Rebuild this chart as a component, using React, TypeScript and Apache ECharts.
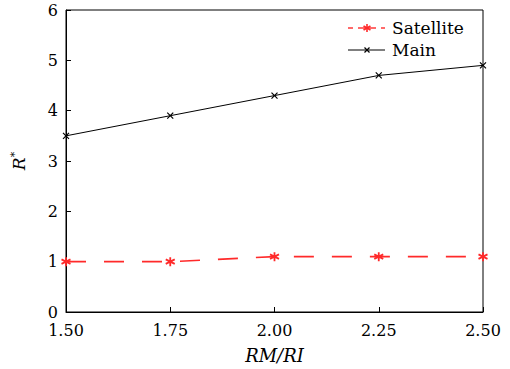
import React, { useEffect, useRef } from "react";
import * as echarts from "echarts";

const ratios = [1.5, 1.75, 2.0, 2.25, 2.5];
const satellite = [1.0, 1.0, 1.1, 1.1, 1.1];
const mainSeries = [3.5, 3.9, 4.3, 4.7, 4.9];
const seriesNames = ["Satellite", "Main"];

const FONT = "'DejaVu Serif', 'Liberation Serif', serif";
const RED = "#ff2a2a";
const crossPath = "path://M0,0L10,10M10,0L0,10";
const starPath = "path://M5,0L5,10M0.67,2.5L9.33,7.5M0.67,7.5L9.33,2.5";

function starLines(cx: number, cy: number, r: number, color: string, w: number) {
  const out: any[] = [];
  for (let k = 0; k < 3; k++) {
    const a = (Math.PI / 3) * k + Math.PI / 2;
    out.push({
      type: "line",
      shape: { x1: cx - r * Math.cos(a), y1: cy - r * Math.sin(a), x2: cx + r * Math.cos(a), y2: cy + r * Math.sin(a) },
      style: { stroke: color, lineWidth: w },
      z: 10,
    });
  }
  return out;
}

function crossLines(cx: number, cy: number, r: number, color: string, w: number) {
  return [
    { type: "line", shape: { x1: cx - r, y1: cy - r, x2: cx + r, y2: cy + r }, style: { stroke: color, lineWidth: w }, z: 10 },
    { type: "line", shape: { x1: cx - r, y1: cy + r, x2: cx + r, y2: cy - r }, style: { stroke: color, lineWidth: w }, z: 10 },
  ];
}

export default function App() {
  const ref = useRef<HTMLDivElement>(null);
  useEffect(() => {
    if (!ref.current) return;
    const chart = echarts.init(ref.current, undefined, { renderer: "svg" });
    const yS = 28;
    const yM = 50;
    const legendGraphics: any[] = [
      { type: "line", shape: { x1: 348, y1: yS, x2: 353, y2: yS }, style: { stroke: RED, lineWidth: 1.4 }, z: 10 },
      { type: "line", shape: { x1: 358, y1: yS, x2: 376, y2: yS }, style: { stroke: RED, lineWidth: 1.4 }, z: 10 },
      { type: "line", shape: { x1: 381, y1: yS, x2: 385, y2: yS }, style: { stroke: RED, lineWidth: 1.4 }, z: 10 },
      ...starLines(367, yS, 4, RED, 1.6),
      {
        type: "text",
        x: 392,
        y: yS,
        style: { text: seriesNames[0], font: "17px " + FONT, fontFamily: FONT, fontSize: 17, fill: "#000", verticalAlign: "middle" },
        z: 10,
      },
      { type: "line", shape: { x1: 348, y1: yM, x2: 385, y2: yM }, style: { stroke: "#000", lineWidth: 1 }, z: 10 },
      ...crossLines(367, yM, 2.5, "#000", 1.2),
      {
        type: "text",
        x: 392,
        y: yM,
        style: { text: seriesNames[1], font: "17px " + FONT, fontFamily: FONT, fontSize: 17, fill: "#000", verticalAlign: "middle" },
        z: 10,
      },
    ];
    chart.setOption({
      animation: false,
      backgroundColor: "#fff",
      textStyle: { fontFamily: FONT, color: "#000" },
      grid: {
        left: 66,
        right: 27,
        top: 10,
        bottom: 56,
        show: true,
        borderColor: "#000",
        borderWidth: 1,
      },
      graphic: legendGraphics,
      xAxis: {
        type: "value",
        min: 1.5,
        max: 2.5,
        interval: 0.25,
        name: "RM/RI",
        nameLocation: "middle",
        nameGap: 34,
        nameTextStyle: { fontFamily: FONT, fontSize: 18, fontStyle: "italic", color: "#000" },
        axisLine: { lineStyle: { color: "#000", width: 1 } },
        axisTick: { inside: true, length: 5, lineStyle: { color: "#000" } },
        axisLabel: {
          fontFamily: FONT,
          fontSize: 16,
          color: "#000",
          margin: 10,
          formatter: (v: number) => v.toFixed(2),
        },
        splitLine: { show: false },
      },
      yAxis: {
        type: "value",
        min: 0,
        max: 6,
        interval: 1,
        name: "{i|R}{s|*}",
        nameLocation: "middle",
        nameGap: 38,
        nameTextStyle: {
          rich: {
            i: { fontFamily: FONT, fontSize: 17, fontStyle: "italic", color: "#000" },
            s: { fontFamily: FONT, fontSize: 11, color: "#000", verticalAlign: "top", padding: [0, 0, 8, 0] },
          },
        },
        axisLine: { lineStyle: { color: "#000", width: 1 } },
        axisTick: { inside: true, length: 5, lineStyle: { color: "#000" } },
        axisLabel: { fontFamily: FONT, fontSize: 16, color: "#000", margin: 8 },
        splitLine: { show: false },
      },
      series: [
        {
          name: seriesNames[0],
          type: "line",
          data: ratios.map((x, i) => [x, satellite[i]]),
          symbol: starPath,
          symbolSize: 9,
          lineStyle: { color: RED, width: 1.6, type: [20, 18] },
          itemStyle: { color: "none", borderColor: RED, borderWidth: 1.8 },
          z: 3,
        },
        {
          name: seriesNames[1],
          type: "line",
          data: ratios.map((x, i) => [x, mainSeries[i]]),
          symbol: crossPath,
          symbolSize: 6,
          lineStyle: { color: "#000", width: 1 },
          itemStyle: { color: "none", borderColor: "#000", borderWidth: 1.2 },
          z: 2,
        },
      ],
    });
    return () => chart.dispose();
  }, []);
  return <div ref={ref} style={{ width: 510, height: 369, position: "absolute", left: 0, top: 0 }} />;
}
